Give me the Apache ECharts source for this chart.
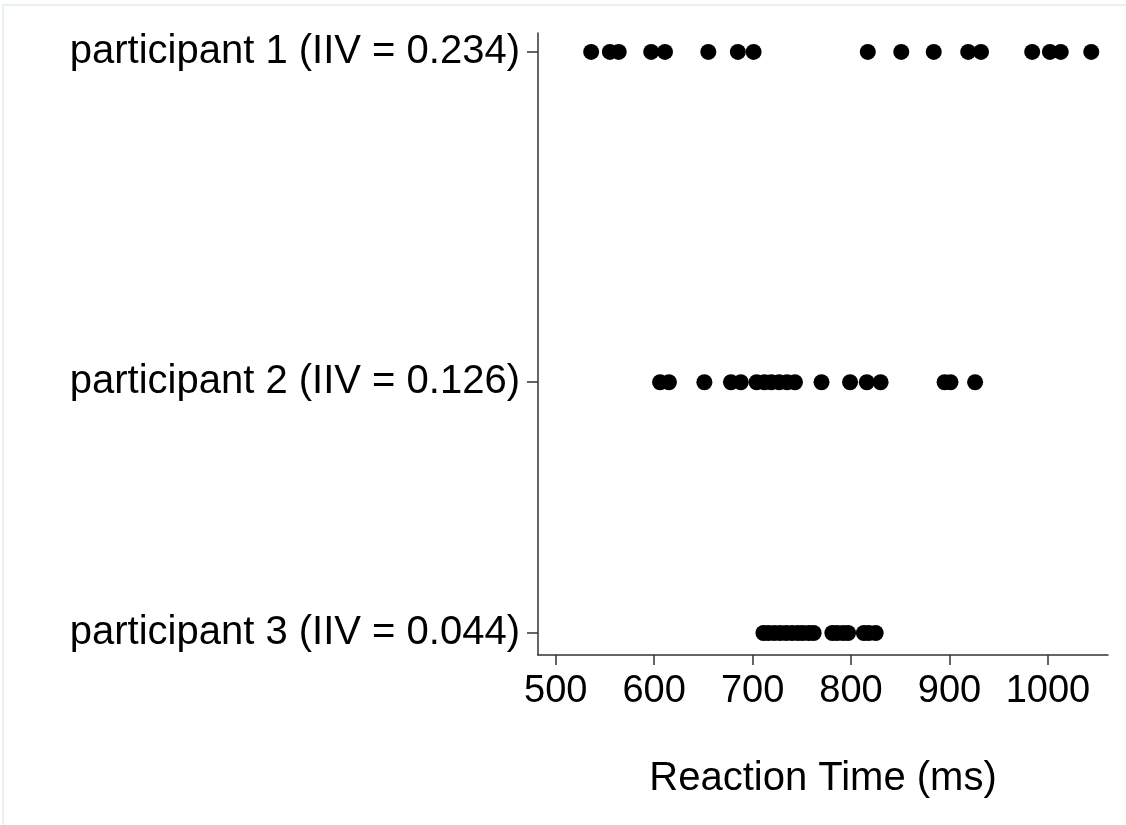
<!DOCTYPE html>
<html>
<head>
<meta charset="utf-8">
<script src="https://cdn.jsdelivr.net/npm/echarts@6/dist/echarts.min.js"></script>
<style>
html,body{margin:0;padding:0;background:#fff;}
#frame{position:absolute;left:2px;top:4px;width:1130px;height:830px;border-left:2px solid #e9f0f0;border-top:2px solid #e9f0f0;box-sizing:border-box;pointer-events:none;}
#chart{position:absolute;left:0;top:0;width:1126px;height:825px;}
</style>
</head>
<body>
<div id="chart"></div>
<div id="frame"></div>
<script>
// Data
const participants = ['participant 1', 'participant 2', 'participant 3'];
const iivValues = [0.234, 0.126, 0.044];
const rtParticipant1 = [536, 555, 564, 597, 611, 655, 685, 701, 817, 851, 884, 919, 932, 984, 1002, 1013, 1044];
const rtParticipant2 = [606, 615, 651, 678, 688, 704, 712, 719, 727, 735, 743, 770, 799, 816, 830, 895, 901, 926];
const rtParticipant3 = [711, 716, 722, 728, 734, 740, 746, 751, 757, 762, 781, 786, 792, 797, 813, 818, 825];
const xTicks = [500, 600, 700, 800, 900, 1000];
const xTitle = 'Reaction Time (ms)';

const rtAll = [rtParticipant1, rtParticipant2, rtParticipant3];
const points = [];
rtAll.forEach((arr, i) => arr.forEach(v => points.push([v, iivValues[i]])));

const labelFor = {};
iivValues.forEach((v, i) => { labelFor[v.toFixed(3)] = participants[i] + ' (IIV = ' + v.toFixed(3) + ')'; });

const font = 'Liberation Sans, Arial, sans-serif';
const chart = echarts.init(document.getElementById('chart'), null, {renderer: 'canvas'});
chart.setOption({
  animation: false,
  backgroundColor: '#fff',
  grid: {left: 538, right: 18, top: 33, bottom: 170, containLabel: false},
  xAxis: {
    type: 'value',
    min: 482, max: 1061,
    name: xTitle,
    nameLocation: 'middle',
    nameGap: 104,
    nameTextStyle: {fontFamily: font, fontSize: 40, color: '#000'},
    axisLine: {show: true, lineStyle: {color: '#333', width: 1.5}},
    axisTick: {show: true, length: 10, lineStyle: {color: '#333', width: 1.5}, customValues: xTicks},
    axisLabel: {fontFamily: font, fontSize: 38, color: '#000', margin: 18, customValues: xTicks,
      formatter: v => String(v)},
    splitLine: {show: false}
  },
  yAxis: {
    type: 'value',
    min: 0.0368, max: 0.2402,
    axisLine: {show: true, lineStyle: {color: '#333', width: 1.5}},
    axisTick: {show: true, length: 11, lineStyle: {color: '#333', width: 1.5}, customValues: iivValues},
    axisLabel: {fontFamily: font, fontSize: 40, color: '#000', margin: 18, customValues: iivValues,
      formatter: v => labelFor[Number(v).toFixed(3)] || ''},
    splitLine: {show: false}
  },
  series: [{
    type: 'scatter',
    data: points,
    symbol: 'circle',
    symbolSize: 16,
    itemStyle: {color: '#000', opacity: 1},
    silent: true
  }]
});
</script>
</body>
</html>
